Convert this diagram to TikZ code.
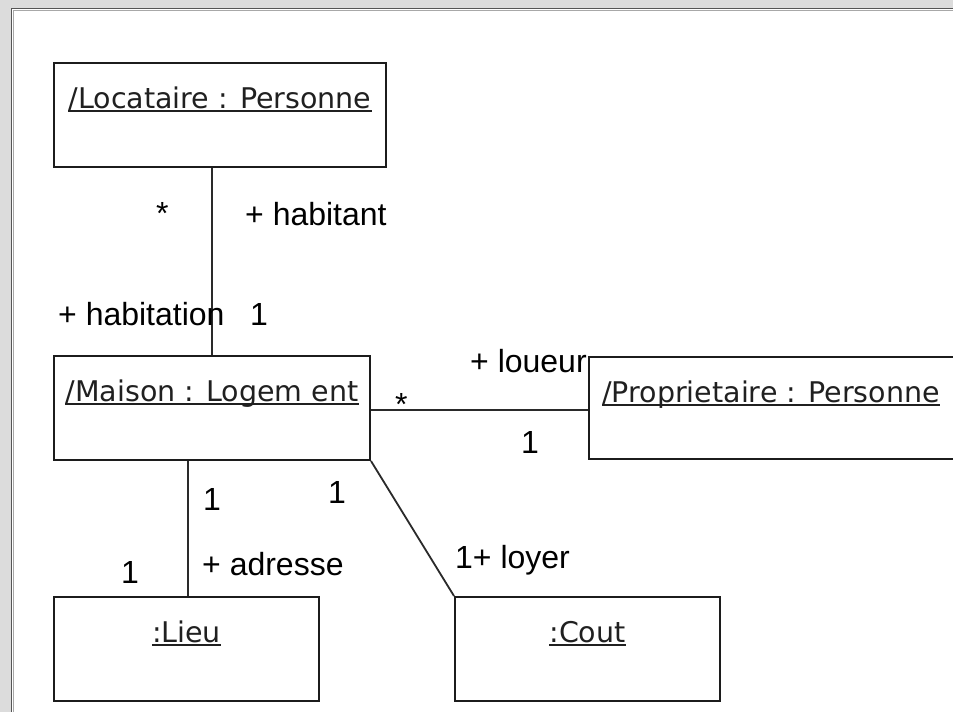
\documentclass[tikz,border=0pt]{standalone}
\usepackage{fontspec}
\setmainfont{Liberation Sans}
\newfontfamily\objfont{DejaVu Sans}
\definecolor{bggray}{HTML}{DCDCDC}
\definecolor{framedark}{HTML}{555555}
\definecolor{framelight}{HTML}{A8A8A8}
\definecolor{boxline}{HTML}{1C1C1C}
\definecolor{linkcol}{HTML}{2A2A2A}
\definecolor{titletext}{HTML}{202020}
\begin{document}
\begin{tikzpicture}[x=1pt,y=-1pt,
  objbox/.style={draw=boxline, line width=2pt, rectangle, inner sep=0pt, fill=white},
  objtitle/.style={font=\objfont\fontsize{28.5}{34}\selectfont, inner sep=0pt, anchor=base, text=titletext},
  uline/.style={draw=titletext, line width=1.6pt},
  role/.style={font=\fontsize{32}{37}\selectfont, inner sep=0pt, anchor=base west},
  link/.style={draw=linkcol, line width=1.8pt}]
\clip (0,0) rectangle (953,712);
% window frame
\fill[bggray] (0,0) rectangle (953,712);
\fill[white] (12,9) rectangle (953,712);
\draw[framedark, line width=1.2pt] (11.5,712) -- (11.5,8.5) -- (953,8.5);
\draw[framelight, line width=1pt] (13.5,712) -- (13.5,10) -- (953,10);

% object boxes
\node[objbox, minimum width=332pt, minimum height=104pt] (loc) at (220,115) {};
\node[objbox, minimum width=316pt, minimum height=104pt] (mai) at (212,408) {};
\node[objbox, minimum width=370pt, minimum height=102pt] (pro) at (774,408) {};
\node[objbox, minimum width=265pt, minimum height=104pt] (lie) at (186.5,649) {};
\node[objbox, minimum width=265pt, minimum height=104pt] (cou) at (587.5,649) {};

% underlined object names
\node[objtitle] (locT) at ([yshift=-46pt]loc.north) {/Locataire : Personne};
\node[objtitle] (maiT) at ([yshift=-46pt]mai.north) {/Maison : Logem ent};
\node[objtitle] (proT) at (771,402) {/Proprietaire : Personne};
\node[objtitle] (lieT) at ([yshift=-46pt]lie.north) {:Lieu};
\node[objtitle] (couT) at ([yshift=-46pt]cou.north) {:Cout};
\foreach \t in {locT,maiT,proT,lieT,couT}
  \draw[uline] ([yshift=-3pt]\t.base west) -- ([yshift=-3pt]\t.base east);

% links
\draw[link] (mai.north |- loc.south) -- (mai.north);
\draw[link] ([yshift=-2pt]mai.east) -- ([yshift=-2pt]mai.east -| pro.west);
\draw[link] ([xshift=1.5pt]lie.north |- mai.south) -- ([xshift=1.5pt]lie.north);
\draw[link] (mai.south east) -- (cou.north west);

% association ends
\node[role] (m1) at (156,224) {*};
\node[role] (r1) at (245,225) {+ habitant};
\node[role] (r2) at (58,325) {+ habitation};
\node[role] (m2) at (250,325) {1};
\node[role] (r3) at (470,372) {+ loueur};
\node[role] (m3) at (395,415) {*};
\node[role] (m4) at (521,453) {1};
\node[role] (m5) at (203,510) {1};
\node[role] (m6) at (328,503) {1};
\node[role] (r4) at (202,575) {+ adresse};
\node[role] (m7) at (121,583) {1};
\node[role] (r5) at (455,568) {1+ loyer};
\end{tikzpicture}
\end{document}
